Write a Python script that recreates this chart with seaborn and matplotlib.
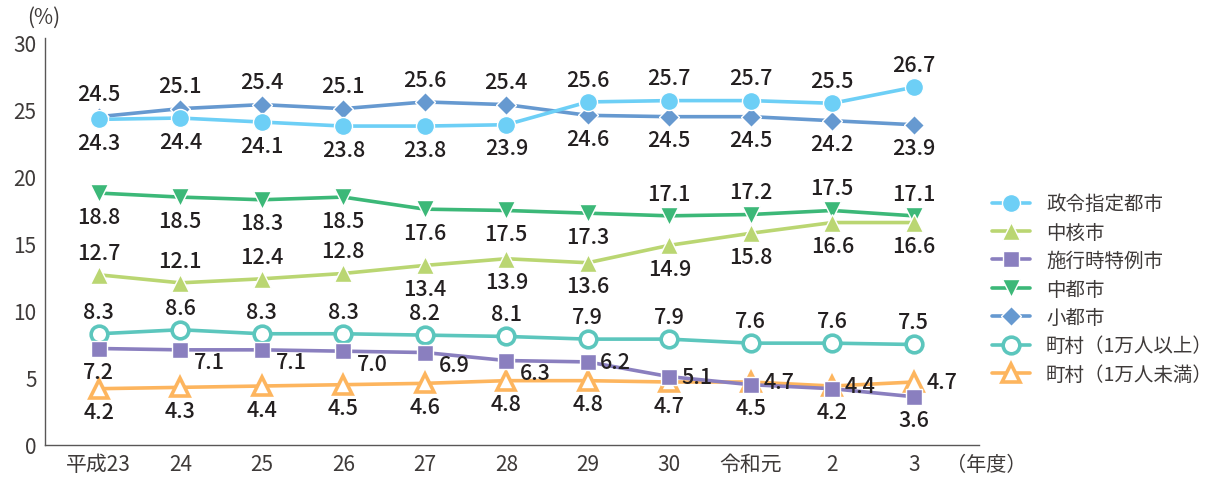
import pandas as pd
import matplotlib.pyplot as plt
import seaborn as sns


years = ["平成23", "24", "25", "26", "27", "28", "29", "30", "令和元", "2", "3"]

seirei = [24.3, 24.4, 24.1, 23.8, 23.8, 23.9, 25.6, 25.7, 25.7, 25.5, 26.7]
chukaku = [12.7, 12.1, 12.4, 12.8, 13.4, 13.9, 13.6, 14.9, 15.8, 16.6, 16.6]
tokurei = [7.2, 7.1, 7.1, 7.0, 6.9, 6.3, 6.2, 5.1, 4.5, 4.2, 3.6]
chutoshi = [18.8, 18.5, 18.3, 18.5, 17.6, 17.5, 17.3, 17.1, 17.2, 17.5, 17.1]
shotoshi = [24.5, 25.1, 25.4, 25.1, 25.6, 25.4, 24.6, 24.5, 24.5, 24.2, 23.9]
chouson_over = [8.3, 8.6, 8.3, 8.3, 8.2, 8.1, 7.9, 7.9, 7.6, 7.6, 7.5]
chouson_under = [4.2, 4.3, 4.4, 4.5, 4.6, 4.8, 4.8, 4.7, 4.7, 4.4, 4.7]

names = ["政令指定都市", "中核市", "施行時特例市", "中都市", "小都市",
         "町村（1万人以上）", "町村（1万人未満）"]
values = [seirei, chukaku, tokurei, chutoshi, shotoshi, chouson_over, chouson_under]

# style per series: colour, marker, size, open marker
styles = [
    ("#6dcff6", "o", 13, False),
    ("#bad672", "^", 13, False),
    ("#8a7fbf", "s", 11, False),
    ("#3cb878", "v", 13, False),
    ("#6699d0", "D", 10.5, False),
    ("#5cc6bd", "o", 12, True),
    ("#fdb55e", "^", 13, True),
]

# where each value label sits: a=above, b=below, r=right, br=below right
label_pos = [
    ["b"] * 6 + ["a"] * 5,
    ["a"] * 4 + ["b"] * 7,
    ["b", "br", "br", "br", "br", "br", "r", "r", "b", "b", "b"],
    ["b"] * 7 + ["a"] * 4,
    ["a"] * 6 + ["b"] * 5,
    ["a"] * 11,
    ["b"] * 8 + ["r"] * 3,
]
offsets = {"a": (0, 16), "b": (0, -17), "r": (20, 0), "br": (21, -9)}


def main():
    sns.set_style("white")
    plt.rcParams["font.family"] = ["Noto Sans CJK JP", "DejaVu Sans"]

    fig = plt.figure(figsize=(12.13, 4.81), dpi=100)
    ax = fig.add_axes([0.0371, 0.0728, 0.7700, 0.8469])

    x = list(range(len(years)))
    n = len(names)
    for i, (name, vals, (col, mk, ms, hollow)) in enumerate(zip(names, values, styles)):
        df = pd.DataFrame({"x": x, "v": vals})
        kw = dict(marker=mk, markersize=ms)
        if hollow:
            kw.update(markerfacecolor="white", markeredgecolor=col, markeredgewidth=2.6)
        else:
            kw.update(markerfacecolor=col, markeredgecolor="white", markeredgewidth=1.0)
        sns.lineplot(data=df, x="x", y="v", ax=ax, color=col, linewidth=2.6,
                     label=name, zorder=10 + (n - i), **kw)
        for xi, v, p in zip(x, vals, label_pos[i]):
            ax.annotate(f"{v:.1f}", (xi, v), xytext=offsets[p],
                        textcoords="offset points", ha="center", va="center",
                        fontsize=15.5, fontweight="medium", color="#231f20", zorder=30)

    ax.set_xlim(-0.66, 10.8)
    ax.set_ylim(0, 30.4)
    ax.set_yticks(range(0, 31, 5))
    ax.set_xticks(x)
    ax.set_xticklabels(years)
    ax.set_xlabel("")
    ax.set_ylabel("")
    for s in ["top", "right"]:
        ax.spines[s].set_visible(False)
    for s in ["left", "bottom"]:
        ax.spines[s].set_color("#595757")
        ax.spines[s].set_linewidth(1.0)
    ax.tick_params(axis="both", direction="in", length=6, width=1,
                   color="#595757", labelsize=15, labelcolor="#3e3a39")
    ax.tick_params(axis="x", pad=6)
    ax.tick_params(axis="y", pad=6)

    fig.text(0.022, 0.963, "(%)", fontsize=15, color="#3e3a39", va="center")
    fig.text(0.78, 0.033, "（年度）", fontsize=14.5, color="#3e3a39", va="center")

    ax.legend(loc="center left", bbox_to_anchor=(0.803, 0.397),
              bbox_transform=fig.transFigure, frameon=False, fontsize=14,
              handlelength=2.0, handletextpad=0.8, labelspacing=0.38,
              labelcolor="#3e3a39")

    plt.savefig("out.png", dpi=100)
    plt.close("all")


if __name__ == "__main__":
    main()
